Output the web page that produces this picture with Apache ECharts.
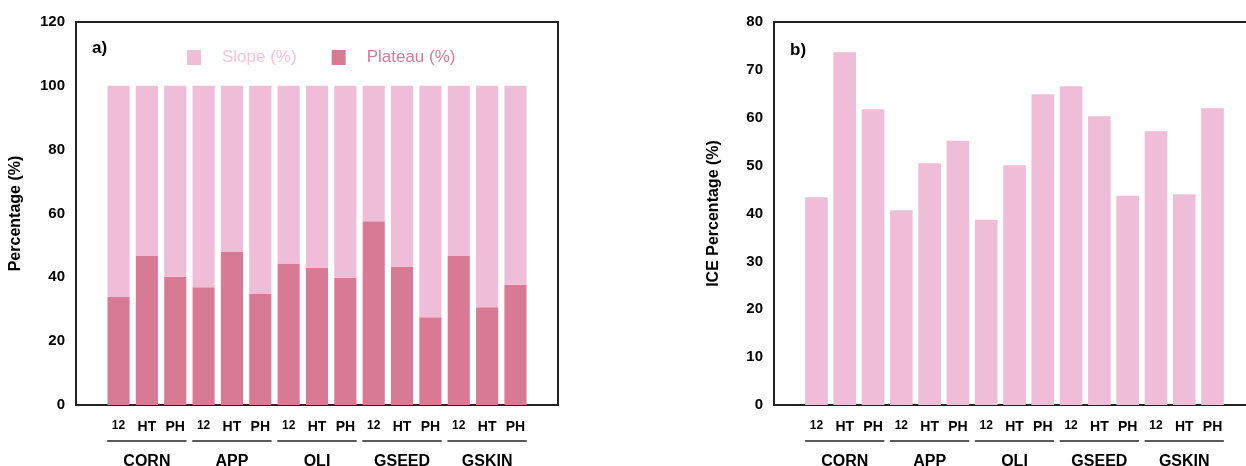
<!DOCTYPE html>
<html>
<head>
<meta charset="utf-8">
<script src="https://cdn.jsdelivr.net/npm/echarts@6/dist/echarts.min.js"></script>
<style>
  html, body { margin: 0; padding: 0; background: #fff; }
  #main { width: 1246px; height: 466px; }
</style>
</head>
<body>
<div id="main"></div>
<script>
// data
var groups = ['CORN', 'APP', 'OLI', 'GSEED', 'GSKIN'];
var treatments = ['12', 'HT', 'PH'];
var plateau = [33.8, 46.7, 40.2, 36.9, 48.1, 34.9, 44.3, 43.0, 39.9, 57.6, 43.4, 27.5, 46.7, 30.6, 37.7];
var slope = [66.2, 53.3, 59.8, 63.1, 51.9, 65.1, 55.7, 57.0, 60.1, 42.4, 56.6, 72.5, 53.3, 69.4, 62.3];
var ice = [43.4, 73.7, 61.8, 40.7, 50.5, 55.2, 38.7, 50.1, 64.9, 66.6, 60.3, 43.7, 57.2, 44.0, 62.0];
var leftTicks = { min: 0, max: 120, interval: 20 };
var rightTicks = { min: 0, max: 80, interval: 10 };

var LIGHT = '#f0bdd8';
var DARK = '#d87a93';
var FONT = 'Liberation Sans, Arial, sans-serif';

// one empty slot on each side of the 15 bars
var cats = [''];
groups.forEach(function () { treatments.forEach(function (t) { cats.push(t); }); });
cats.push('');
function pad(arr) { return ['-'].concat(arr, ['-']); }

function xAxis(gridIndex) {
  return {
    type: 'category', gridIndex: gridIndex, data: cats,
    axisTick: { show: false },
    axisLine: { lineStyle: { color: '#222', width: 2 } },
    axisLabel: {
      interval: 0, margin: 15,
      formatter: function (v) { return v === '12' ? '{s|12}' : '{b|' + v + '}'; },
      rich: {
        s: { fontSize: 12, fontWeight: 'bold', color: '#000', fontFamily: FONT },
        b: { fontSize: 14, fontWeight: 'bold', color: '#000', fontFamily: FONT }
      }
    }
  };
}

function yAxis(gridIndex, name, ticks) {
  return {
    type: 'value', gridIndex: gridIndex, min: ticks.min, max: ticks.max, interval: ticks.interval,
    name: name, nameLocation: 'middle', nameGap: 52,
    nameTextStyle: { fontSize: 16, fontWeight: 'bold', color: '#000', fontFamily: FONT },
    splitLine: { show: false },
    axisTick: { show: false },
    axisLine: { show: true, lineStyle: { color: '#222', width: 2 } },
    axisLabel: { fontSize: 15, fontWeight: 'bold', color: '#000', margin: 11, fontFamily: FONT }
  };
}

var chart = echarts.init(document.getElementById('main'));

chart.setOption({
  animation: false,
  textStyle: { fontFamily: FONT },
  title: [
    { text: 'a)', left: 87, top: 35, textStyle: { fontSize: 17, fontWeight: 'bold', color: '#000' } },
    { text: 'b)', left: 785, top: 37, textStyle: { fontSize: 17, fontWeight: 'bold', color: '#000' } }
  ],
  legend: {
    left: 182, top: 44, itemWidth: 14, itemHeight: 15, itemGap: 35,
    icon: 'rect',
    textStyle: { fontSize: 17, padding: [0, 0, 0, 16] },
    data: [
      { name: 'Slope (%)', textStyle: { color: '#f3c2dc' } },
      { name: 'Plateau (%)', textStyle: { color: '#d87a93' } }
    ]
  },
  grid: [
    { left: 76, top: 22, width: 482, height: 383, show: true, borderColor: '#222', borderWidth: 2, outerBoundsMode: 'none' },
    { left: 774, top: 22, width: 481, height: 383, show: true, borderColor: '#222', borderWidth: 2, outerBoundsMode: 'none' }
  ],
  xAxis: [xAxis(0), xAxis(1)],
  yAxis: [yAxis(0, 'Percentage (%)', leftTicks), yAxis(1, 'ICE Percentage (%)', rightTicks)],
  series: [
    {
      name: 'Plateau (%)', type: 'bar', stack: 'a', xAxisIndex: 0, yAxisIndex: 0,
      barWidth: '78%', itemStyle: { color: DARK }, data: pad(plateau)
    },
    {
      name: 'Slope (%)', type: 'bar', stack: 'a', xAxisIndex: 0, yAxisIndex: 0,
      barWidth: '78%', itemStyle: { color: LIGHT }, data: pad(slope)
    },
    {
      name: 'ICE', type: 'bar', xAxisIndex: 1, yAxisIndex: 1,
      barWidth: '80%', itemStyle: { color: LIGHT }, data: pad(ice)
    }
  ]
});

// group underlines and group names, placed from the axis scales
var graphics = [];
[0, 1].forEach(function (g) {
  var y0 = chart.convertToPixel({ yAxisIndex: g }, 0);
  var step = chart.convertToPixel({ xAxisIndex: g }, 2) - chart.convertToPixel({ xAxisIndex: g }, 1);
  groups.forEach(function (name, i) {
    var x1 = chart.convertToPixel({ xAxisIndex: g }, 1 + i * 3) - step * 0.4;
    var x2 = chart.convertToPixel({ xAxisIndex: g }, 3 + i * 3) + step * 0.4;
    graphics.push({
      type: 'line', shape: { x1: x1, y1: y0 + 36, x2: x2, y2: y0 + 36 },
      style: { stroke: '#222', lineWidth: 1.5 }, silent: true
    });
    graphics.push({
      type: 'text', x: (x1 + x2) / 2, y: y0 + 57,
      style: {
        text: name, fill: '#000', fontSize: 16, fontWeight: 'bold', fontFamily: FONT,
        align: 'center', verticalAlign: 'middle'
      }, silent: true
    });
  });
});
chart.setOption({ graphic: graphics });
</script>
</body>
</html>
